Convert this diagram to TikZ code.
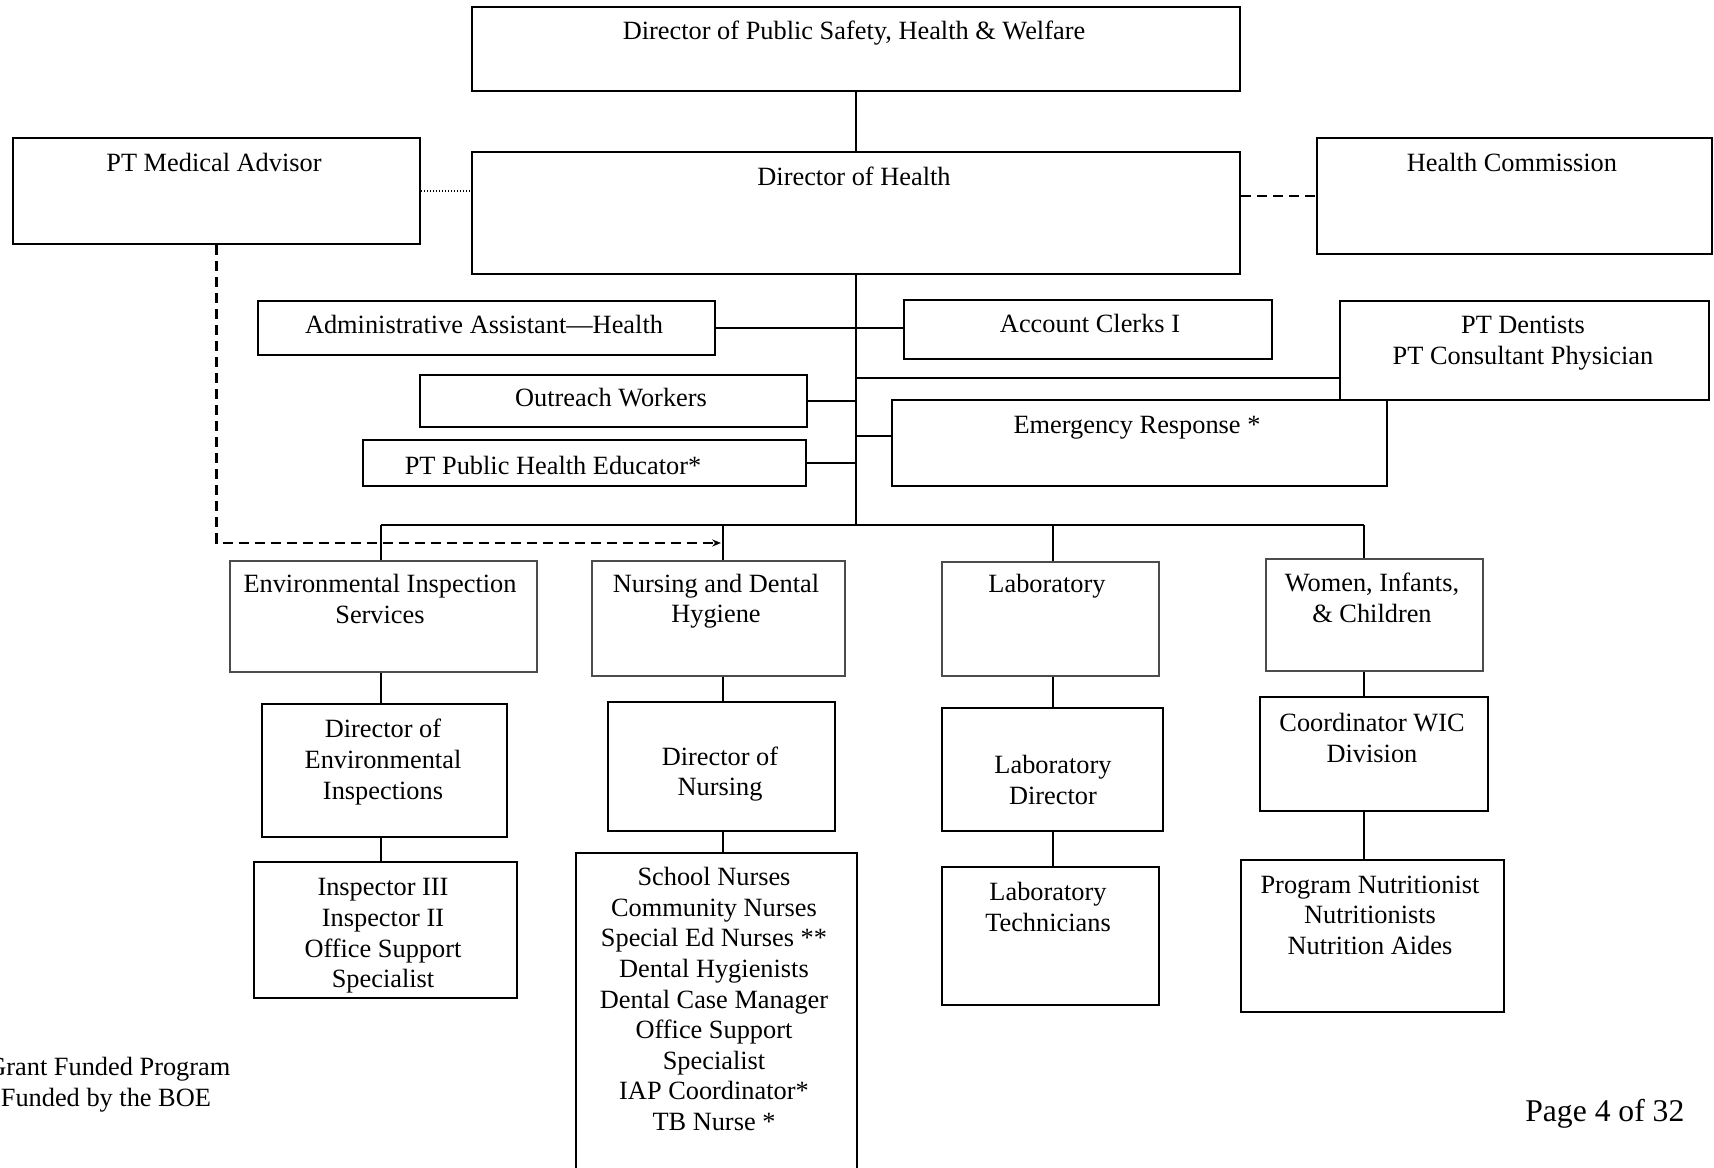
\documentclass[tikz,border=0pt]{standalone}
\usepackage{fontspec}
\setmainfont{Liberation Serif}
\usetikzlibrary{fit}
\usetikzlibrary{arrows.meta}

\begin{document}
\begin{tikzpicture}[x=0.02cm, y=-0.02cm,
    orgbox/.style={draw=black, line width=1.4pt, inner sep=0pt},
    unitbox/.style={draw=black!70, line width=0.6pt, inner sep=0pt},
    lbl/.style={inner sep=0pt, align=center, font=\fontsize{15pt}{17.4pt}\selectfont},
    link/.style={black, line width=1.4pt},
    dashlink/.style={black, line width=1.2pt, dash pattern=on 0.2cm off 0.12cm},
    dotlink/.style={black, line width=0.9pt, dash pattern=on 0.02cm off 0.04cm}]

\useasboundingbox (0,0) rectangle (1714,1168);

% Top boxes
\node[orgbox, fit={(472,7) (1240,91)}] (dps) {};
\node[orgbox, fit={(13,138) (420,244)}] (medadv) {};
\node[orgbox, fit={(472,152) (1240,274)}] (doh) {};
\node[orgbox, fit={(1317,138) (1712,254)}] (hc) {};

\node[lbl] (dps-t) at (854,33) {Director of Public Safety, Health \& Welfare};
\node[lbl] (medadv-t) at (214,162) {PT Medical Advisor};
\node[lbl] (doh-t) at (854,176) {Director of Health};
\node[lbl] (hc-t) at (1512,162) {Health Commission};

% Staff under the Director of Health
\node[orgbox, fit={(258,301) (715,355)}] (admin) {};
\node[orgbox, fit={(904,300) (1272,359)}] (clerks) {};
\node[orgbox, fit={(1340,301) (1709,400)}] (dent) {};
\node[orgbox, fit={(420,375) (807,427)}] (outreach) {};
\node[orgbox, fit={(892,400) (1387,486)}] (emerg) {};
\node[orgbox, fit={(363,440) (806,486)}] (educ) {};

\node[lbl] (admin-t) at (484,324) {Administrative Assistant---Health};
\node[lbl] (clerks-t) at (1090,323) {Account Clerks I};
\node[lbl] (dent-t) at (1523,343) {PT Dentists\\PT Consultant Physician};
\node[lbl] (outreach-t) at (611,398) {Outreach Workers};
\node[lbl] (emerg-t) at (1137,428) {Emergency Response *};
\node[lbl] (educ-t) at (553,465) {PT Public Health Educator*};

% Units
\node[unitbox, fit={(230,561) (537,672)}] (env) {};
\node[unitbox, fit={(592,561) (845,676)}] (nurs) {};
\node[unitbox, fit={(942,562) (1159,676)}] (lab) {};
\node[unitbox, fit={(1266,559) (1483,671)}] (wic) {};

\node[lbl] (env-t) at (380,599) {Environmental Inspection\\Services};
\node[lbl] (nurs-t) at (716,601) {Nursing and Dental\\Hygiene};
\node[lbl] (lab-t) at (1047,586) {Laboratory};
\node[lbl] (wic-t) at (1372,598) {Women, Infants,\\\& Children};

% Heads of the units
\node[orgbox, fit={(262,704) (507,837)}] (direnv) {};
\node[orgbox, fit={(608,702) (835,831)}] (dirnurs) {};
\node[orgbox, fit={(942,708) (1163,831)}] (labdir) {};
\node[orgbox, fit={(1260,697) (1488,811)}] (coordwic) {};

\node[lbl] (direnv-t) at (383,762) {Director of\\Environmental\\Inspections};
\node[lbl] (dirnurs-t) at (720,774) {Director of\\Nursing};
\node[lbl] (labdir-t) at (1053,780) {Laboratory\\Director};
\node[lbl] (coordwic-t) at (1372,738) {Coordinator WIC\\Division};

% Staff of the units
\node[orgbox, fit={(254,862) (517,998)}] (insp) {};
\node[orgbox, fit={(576,853) (857,1185)}] (staff) {};
\node[orgbox, fit={(942,867) (1159,1005)}] (labtech) {};
\node[orgbox, fit={(1241,860) (1504,1012)}] (nutr) {};

\node[lbl] (insp-t) at (383,936) {Inspector III\\Inspector II\\Office Support\\Specialist};
\node[lbl] (staff-t) at (714,999) {School Nurses\\Community Nurses\\Special Ed Nurses **\\Dental Hygienists\\Dental Case Manager\\Office Support\\Specialist\\IAP Coordinator*\\TB Nurse *};
\node[lbl] (labtech-t) at (1048,907) {Laboratory\\Technicians};
\node[lbl] (nutr-t) at (1370,915) {Program Nutritionist\\Nutritionists\\Nutrition Aides};

% Notes
\node[lbl, anchor=west] (grantnote) at (-13,1069) {Grant Funded Program};
\node[lbl, anchor=west] (boenote) at (0.5,1100) {Funded by the BOE};
\node[lbl, anchor=west, font=\fontsize{18pt}{21pt}\selectfont] (pagenum) at (1525,1114) {Page 4 of 32};

% Draws the trunk and its arms
\coordinate (trunk) at (856,525);
\coordinate (dentarm) at (856,378);
\coordinate (emergarm) at (856,436);
\draw[link] (dps) -- (doh);
\draw[link] (doh.south) -- (trunk);
\draw[link] (admin.east) -- (admin.east -| clerks.west);
\draw[link] (dentarm) -- (dentarm -| dent.west);
\draw[link] (outreach.east) -- (outreach.east -| trunk);
\draw[link] (emergarm) -- (emergarm -| emerg.west);
\draw[link] (educ.east) -- (educ.east -| trunk);

% Draws the bus and the columns
\coordinate (colA) at (381,525);
\coordinate (colB) at (723,525);
\coordinate (colC) at (1053,525);
\coordinate (colD) at (1364,525);
\draw[link] (colA) -- (colD);
\draw[link] (colA) -- (colA |- env.north);
\draw[link] (colB) -- (colB |- nurs.north);
\draw[link] (colC) -- (colC |- lab.north);
\draw[link] (colD) -- (colD |- wic.north);
\draw[link] (colA |- env.south) -- (colA |- direnv.north);
\draw[link] (colB |- nurs.south) -- (colB |- dirnurs.north);
\draw[link] (colC |- lab.south) -- (colC |- labdir.north);
\draw[link] (colD |- wic.south) -- (colD |- coordwic.north);
\draw[link] (colA |- direnv.south) -- (colA |- insp.north);
\draw[link] (colB |- dirnurs.south) -- (colB |- staff.north);
\draw[link] (colC |- labdir.south) -- (colC |- labtech.north);
\draw[link] (colD |- coordwic.south) -- (colD |- nutr.north);

% Advisory lines
\coordinate (medend) at (721,543);
\draw[dashlink, -{Stealth[length=5pt, width=4pt]}] (medadv.south) |- (medend);
\draw[dotlink] (medadv.east) -- (medadv.east -| doh.west);
\draw[dashlink] (doh.east |- hc.west) -- (hc.west);

\end{tikzpicture}
\end{document}
